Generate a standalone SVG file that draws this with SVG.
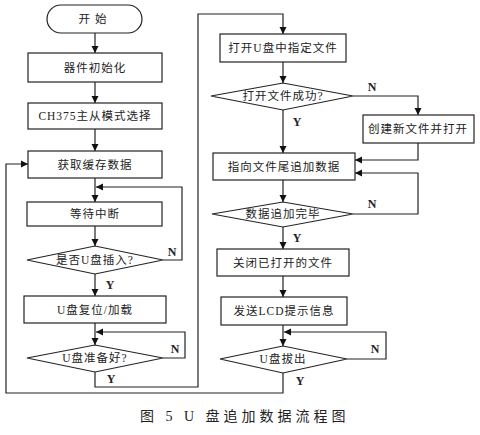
<svg xmlns="http://www.w3.org/2000/svg" width="480" height="435" viewBox="0 0 480 435">
<defs>
<marker id="ah" markerWidth="8" markerHeight="8" refX="7" refY="4" orient="auto" markerUnits="userSpaceOnUse">
<path d="M0,0.5 L7,4 L0,7.5 Z" fill="#111"/>
</marker>
<style>
.n{fill:#fff;stroke:#222;stroke-width:1.2}
.t{font-family:"Liberation Serif","Noto Sans CJK SC",serif;font-size:11.5px;fill:#222;text-anchor:middle;letter-spacing:1px}
.l{font-family:"Liberation Serif",serif;font-size:12px;font-weight:bold;fill:#222;text-anchor:middle}
.c{fill:none;stroke:#222;stroke-width:1.2}
.cap{font-family:"Liberation Serif","Noto Sans CJK SC",serif;font-size:14px;fill:#222;letter-spacing:4px}
</style>
</defs>
<rect width="480" height="435" fill="#fff"/>
<g id="connectors">
<path class="c" d="M95,33 V53" marker-end="url(#ah)"/>
<path class="c" d="M95,82 V103" marker-end="url(#ah)"/>
<path class="c" d="M95,129 V151" marker-end="url(#ah)"/>
<path class="c" d="M95,178 V202" marker-end="url(#ah)"/>
<path class="c" d="M95,226 V246" marker-end="url(#ah)"/>
<path class="c" d="M95,274 V296" marker-end="url(#ah)"/>
<path class="c" d="M163,260 H182 V187 H96" marker-end="url(#ah)"/>
<path class="c" d="M95,323 V345" marker-end="url(#ah)"/>
<path class="c" d="M163,358 H185 V332 H96" marker-end="url(#ah)"/>
<path class="c" d="M95,372 V387 H198 V14 H283 V34" marker-end="url(#ah)"/>
<path class="c" d="M283,62 V83" marker-end="url(#ah)"/>
<path class="c" d="M353,96 H418 V115" marker-end="url(#ah)"/>
<path class="c" d="M283,110 V153" marker-end="url(#ah)"/>
<path class="c" d="M418,143 V160 H355" marker-end="url(#ah)"/>
<path class="c" d="M283,180 V202" marker-end="url(#ah)"/>
<path class="c" d="M353,214 H418 V173 H355" marker-end="url(#ah)"/>
<path class="c" d="M283,227 V249" marker-end="url(#ah)"/>
<path class="c" d="M283,276 V297" marker-end="url(#ah)"/>
<path class="c" d="M283,325 V346" marker-end="url(#ah)"/>
<path class="c" d="M347,359 H386 V332 H284" marker-end="url(#ah)"/>
<path class="c" d="M283,373 V393 H6 V164 H28" marker-end="url(#ah)"/>
<text class="l" x="172" y="256">N</text>
<text class="l" x="110" y="289">Y</text>
<text class="l" x="175" y="353">N</text>
<text class="l" x="111" y="383">Y</text>
<text class="l" x="372" y="91">N</text>
<text class="l" x="297" y="126">Y</text>
<text class="l" x="372" y="208">N</text>
<text class="l" x="297" y="242">Y</text>
<text class="l" x="375" y="353">N</text>
<text class="l" x="300" y="385">Y</text>
</g>
<g id="start"><rect class="n" x="47" y="5" width="95" height="28" rx="14"/><text class="t" x="95" y="23" style="letter-spacing:5px">开始</text></g>
<g id="init"><rect class="n" x="28" y="53" width="134" height="29"/><text class="t" x="95" y="72">器件初始化</text></g>
<g id="mode"><rect class="n" x="28" y="103" width="134" height="26"/><text class="t" x="95" y="120">CH375主从模式选择</text></g>
<g id="fetch"><rect class="n" x="28" y="151" width="134" height="27"/><text class="t" x="95" y="169">获取缓存数据</text></g>
<g id="wait"><rect class="n" x="27" y="202" width="135" height="24"/><text class="t" x="95" y="218">等待中断</text></g>
<g id="insert"><polygon class="n" points="27,260 95,246 163,260 95,274"/><text class="t" x="95" y="264">是否U盘插入?</text></g>
<g id="reset"><rect class="n" x="24" y="296" width="142" height="27"/><text class="t" x="95" y="314">U盘复位/加载</text></g>
<g id="ready"><polygon class="n" points="27,358 95,345 163,358 95,372"/><text class="t" x="95" y="362">U盘准备好?</text></g>
<g id="open"><rect class="n" x="220" y="34" width="126" height="28"/><text class="t" x="283" y="52">打开U盘中指定文件</text></g>
<g id="opened"><polygon class="n" points="211,96 283,83 353,96 283,110"/><text class="t" x="283" y="100">打开文件成功?</text></g>
<g id="create"><rect class="n" x="363" y="115" width="111" height="28"/><text class="t" x="418" y="133">创建新文件并打开</text></g>
<g id="append"><rect class="n" x="213" y="153" width="142" height="27"/><text class="t" x="284" y="171">指向文件尾追加数据</text></g>
<g id="done"><polygon class="n" points="212,214 283,202 353,214 283,227"/><text class="t" x="283" y="218">数据追加完毕</text></g>
<g id="close"><rect class="n" x="217" y="249" width="132" height="27"/><text class="t" x="283" y="267">关闭已打开的文件</text></g>
<g id="lcd"><rect class="n" x="221" y="297" width="126" height="28"/><text class="t" x="284" y="315">发送LCD提示信息</text></g>
<g id="remove"><polygon class="n" points="220,359 283,346 347,359 283,373"/><text class="t" x="283" y="363">U盘拔出</text></g>
<text class="cap" x="140" y="421">图 5  U 盘追加数据流程图</text>
</svg>
